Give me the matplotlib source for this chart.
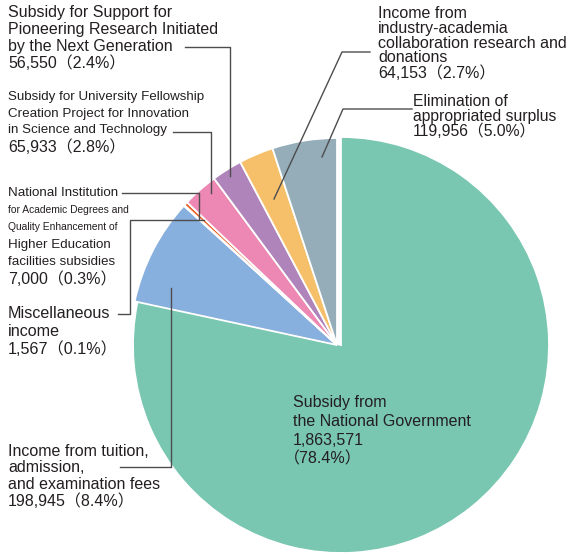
import matplotlib
matplotlib.use("Agg")
import matplotlib.pyplot as plt

plt.rcParams['font.family'] = ['Liberation Sans', 'Noto Sans CJK JP', 'DejaVu Sans']

# income items, clockwise from 12 o'clock
items = ["Subsidy from the National Government",
         "Income from tuition, admission, and examination fees",
         "Miscellaneous income",
         "National Institution facilities subsidies",
         "Subsidy for University Fellowship",
         "Subsidy for Support for Pioneering Research",
         "Income from industry-academia collaboration",
         "Elimination of appropriated surplus"]
amounts = [1863571, 198945, 1567, 7000, 65933, 56550, 64153, 119956]
shares = [78.4, 8.4, 0.1, 0.3, 2.8, 2.4, 2.7, 5.0]
colors = ["#79c6b1", "#88b0de", "#e8622a", "#e8622a",
          "#ec88b3", "#ae84ba", "#f6c06a", "#95adb9"]

W, H = 570, 555
fig = plt.figure(figsize=(W / 100, H / 100), dpi=100)
ax = fig.add_axes([0, 0, 1, 1])

cx, cy, r = 337, 345, 207
wedges, _ = ax.pie(amounts, colors=colors, startangle=90, counterclock=False,
                   center=(cx, cy), radius=r, frame=True,
                   wedgeprops=dict(edgecolor='white', linewidth=1.3))
# y axis runs downward (pixel-like), so mirror the wedge angles
for w in wedges:
    t1, t2 = w.theta1, w.theta2
    w.set_theta1(-t2)
    w.set_theta2(-t1)
# the main slice sits slightly apart
wedges[0].set_center((cx + 4, cy))
wedges[0].set_radius(r + 1)
ax.set_xlim(0, W)
ax.set_ylim(H, 0)
ax.set_aspect('equal')
ax.axis('off')

txt = '#231f20'


def block(x, y0, step, lines, size):
    for i, (s, fs, dx) in enumerate(lines):
        ax.text(x + dx, y0 + i * step, s, fontsize=fs if fs else size,
                color=txt, va='center', ha='left')


def num(i):
    return f"{amounts[i]:,}（{shares[i]}%）"


block(8, 13, 16.7, [("Subsidy for Support for", None, 0),
                    ("Pioneering Research Initiated", None, 0),
                    ("by the Next Generation", None, 0),
                    (num(5), None, 0)], 11.5)
block(8, 97, 16.7, [("Subsidy for University Fellowship", None, 0),
                    ("Creation Project for Innovation", None, 0),
                    ("in Science and Technology", None, 0),
                    (num(4), 11.5, 0)], 9.6)
block(8, 193, 17.2, [("National Institution", None, 0),
                     ("for Academic Degrees and", 7.4, 0),
                     ("Quality Enhancement of", 7.4, 0),
                     ("Higher Education", None, 0),
                     ("facilities subsidies", None, 0),
                     (num(3), 11.5, 0)], 9.6)
block(8, 314, 17.5, [("Miscellaneous", None, 0),
                     ("income", None, 0),
                     (num(2), None, 0)], 11.6)
block(8, 451, 16.7, [("Income from tuition,", None, 0),
                     ("admission,", None, 0),
                     ("and examination fees", None, 0),
                     (num(1), None, 0)], 11.5)
block(293, 403, 18.7, [("Subsidy from", None, 0),
                       ("the National Government", None, 0),
                       (f"{amounts[0]:,}", None, 0),
                       (f"（{shares[0]}%）", None, -9)], 11.5)
block(378, 13, 15, [("Income from", None, 0),
                    ("industry-academia", None, 0),
                    ("collaboration research and", None, 0),
                    ("donations", None, 0),
                    (num(6), None, 0)], 11.5)
block(413, 102, 14.5, [("Elimination of", None, 0),
                       ("appropriated surplus", None, 0),
                       (num(7), None, 0)], 11.3)

# leader lines
lc = '#4d4d4f'
leaders = [
    [(185, 47), (230, 47), (230, 176)],
    [(173, 132), (211, 132), (211, 193)],
    [(122, 193), (199, 193), (199, 219)],
    [(118, 314), (130, 314), (130, 220), (204, 220)],
    [(120, 467), (171, 467), (171, 288)],
    [(370, 52), (342, 52), (274, 199)],
    [(412, 109), (343, 109), (322, 157)],
]
for pts in leaders:
    xs, ys = zip(*pts)
    ax.plot(xs, ys, color=lc, linewidth=1.0)

fig.savefig("out.png", dpi=100)
